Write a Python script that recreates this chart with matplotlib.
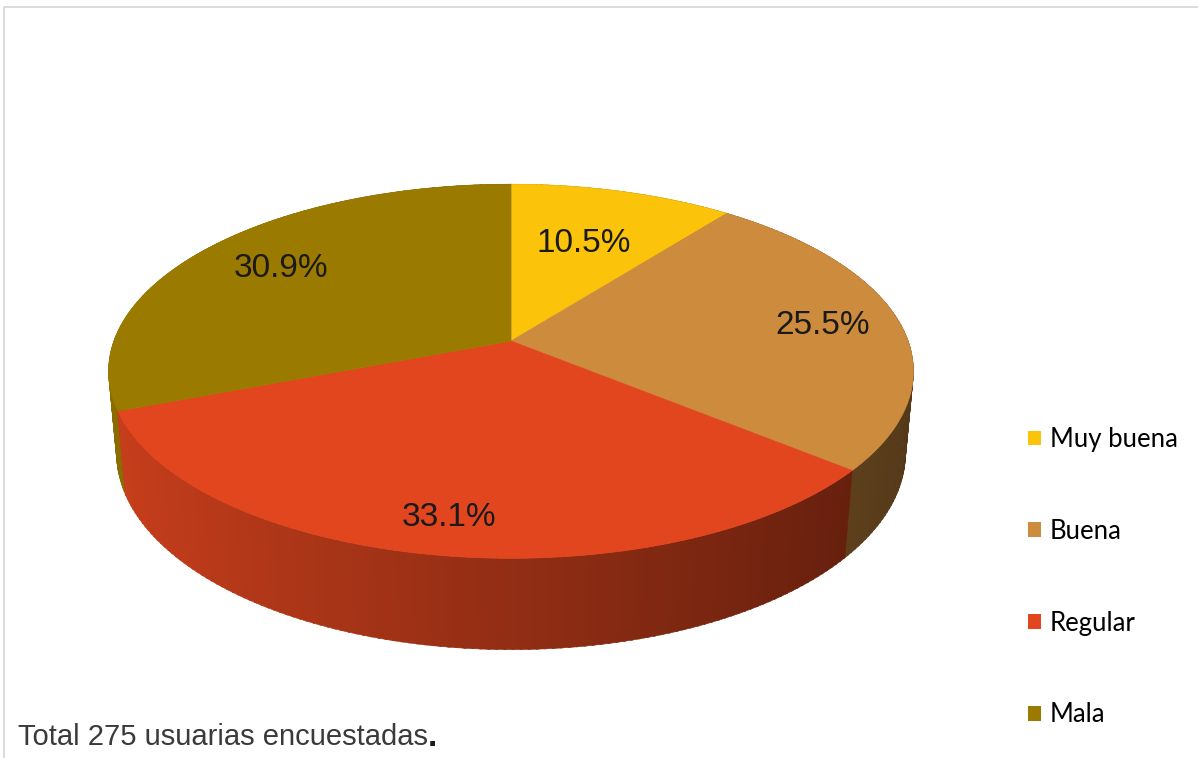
import numpy as np
import matplotlib
matplotlib.use("Agg")
import matplotlib.pyplot as plt
from matplotlib.patches import Polygon, Patch, Rectangle
from matplotlib.colors import to_rgb

categorias = ['Muy buena', 'Buena', 'Regular', 'Mala']
porcentajes = [10.5, 25.5, 33.1, 30.9]
colores = ['#FCC30B', '#CD8B3D', '#E1461F', '#9B7A00']
nota = 'Total 275 usuarias encuestadas'

# radio relativo donde va cada etiqueta de porcentaje
etiqueta_r = [0.62, 0.80, 0.85, 0.75]

# camara para la vista 3D del pastel (unidades: pixeles)
CX, CY = 511, 341
TILT = np.radians(27.3)
DIST = 5.49
FOCAL = 2180
ALTO = 0.234


def proyectar(x, y, z=0.0):
    depth = DIST + y * np.cos(TILT) - z * np.sin(TILT)
    yc = y * np.sin(TILT) + z * np.cos(TILT)
    return CX + FOCAL * x / depth, CY - FOCAL * yc / depth


def borde(t, r=1.0, z=0.0):
    # angulo en grados, en sentido horario desde las 12
    t = np.radians(t)
    return proyectar(r * np.sin(t), r * np.cos(t), z)


fig = plt.figure(figsize=(11.98, 7.58), dpi=100)
ax = fig.add_axes([0, 0, 1, 1])
ax.set_xlim(0, 1198)
ax.set_ylim(758, 0)
ax.axis('off')

# marco gris claro
ax.add_patch(Rectangle((4, 7), 1300, 800, fill=False, edgecolor='#d4d4d4', lw=1.2))

angulos = np.concatenate([[0], np.cumsum(porcentajes) * 3.6])

# pared lateral en tiras finas, de atras hacia adelante
tiras = []
for i, c in enumerate(colores):
    base = np.array(to_rgb(c))
    pasos = np.arange(angulos[i], angulos[i + 1], 1.0)
    pasos = np.append(pasos, angulos[i + 1])
    for a0, a1 in zip(pasos[:-1], pasos[1:]):
        am = np.radians((a0 + a1) / 2)
        luz = 0.65 - 0.25 * np.sin(am)
        col = np.clip(base * luz, 0, 1)
        p = [borde(a0), borde(a1 + 0.3), borde(a1 + 0.3, z=-ALTO), borde(a0, z=-ALTO)]
        tiras.append((np.cos(am), p, col))

tiras.sort(key=lambda t: -t[0])
for _, p, col in tiras:
    ax.add_patch(Polygon(p, closed=True, facecolor=col, edgecolor=col, lw=0.4))

# cara superior
for i, c in enumerate(colores):
    t = np.linspace(angulos[i], angulos[i + 1], 200)
    xs, ys = borde(t)
    pts = [(CX, CY)] + list(zip(xs, ys))
    ax.add_patch(Polygon(pts, closed=True, facecolor=c, edgecolor=c, lw=0.5))

# etiquetas de porcentaje
for i, v in enumerate(porcentajes):
    am = (angulos[i] + angulos[i + 1]) / 2
    x, y = borde(am, r=etiqueta_r[i])
    ax.text(x, y, f'{v:.1f}%', ha='center', va='center', fontsize=24,
            family='Liberation Sans', color='#1a1a1a')

# leyenda
handles = [Patch(facecolor=c, edgecolor='none') for c in colores]
ax.legend(handles, categorias, loc='upper left', bbox_to_anchor=(1028 / 1198, 1 - 427 / 758),
          bbox_transform=fig.transFigure, frameon=False, borderpad=0, borderaxespad=0,
          handlelength=0.5, handleheight=0.5, handletextpad=0.35, labelspacing=2.6,
          prop={'family': 'Lato', 'size': 18.5})

t = ax.text(18, 737, nota, ha='left', va='center', fontsize=21,
            family='Liberation Sans', color='#3a3a3a')
fig.canvas.draw()
bb = t.get_window_extent()
ax.text(bb.x1 / 1198, 737, '.', transform=ax.get_yaxis_transform(), ha='left', va='center',
        fontsize=24, fontweight='bold', family='Liberation Sans', color='#1a1a1a')

fig.savefig('out.png', dpi=100, facecolor='white')
